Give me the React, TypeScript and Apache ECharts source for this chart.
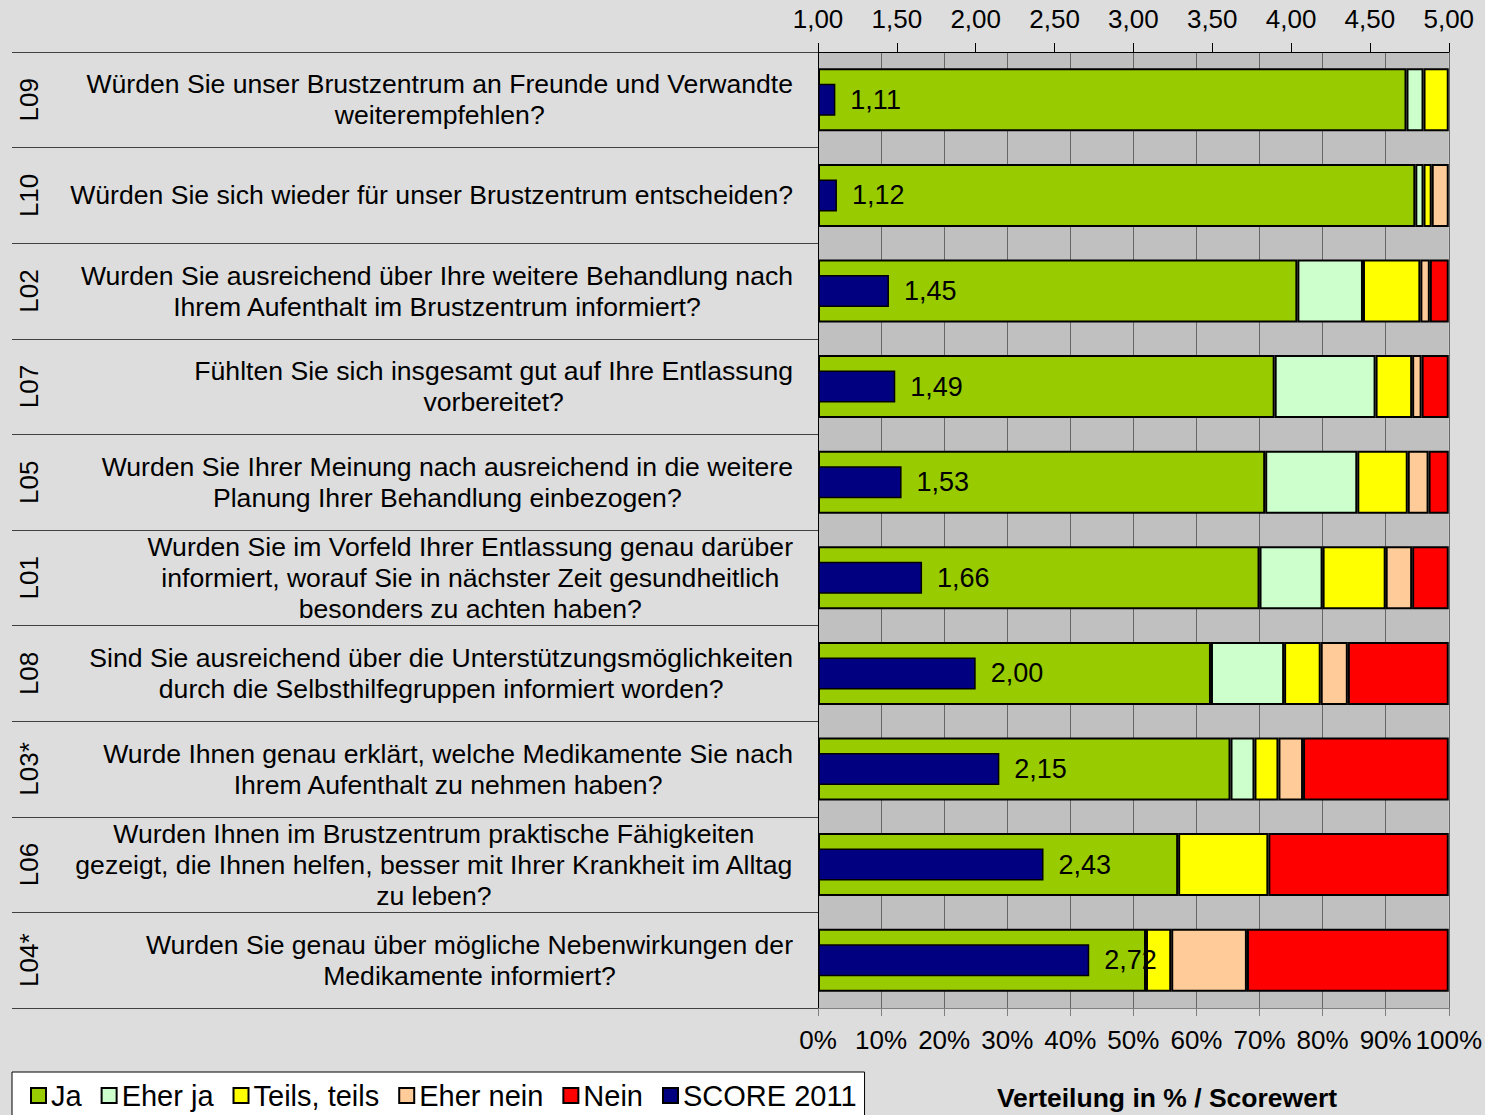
import React, { useEffect, useRef } from "react";
import * as echarts from "echarts";

const codes = ["L09", "L10", "L02", "L07", "L05", "L01", "L08", "L03*", "L06", "L04*"];
const questions: string[][] = [
  ["Würden Sie unser Brustzentrum an Freunde und Verwandte", "weiterempfehlen?"],
  ["Würden Sie sich wieder für unser Brustzentrum entscheiden?"],
  ["Wurden Sie ausreichend über Ihre weitere Behandlung nach", "Ihrem Aufenthalt im Brustzentrum informiert?"],
  ["Fühlten Sie sich insgesamt gut auf Ihre Entlassung", "vorbereitet?"],
  ["Wurden Sie Ihrer Meinung nach ausreichend in die weitere", "Planung Ihrer Behandlung einbezogen?"],
  ["Wurden Sie im Vorfeld Ihrer Entlassung genau darüber", "informiert, worauf Sie in nächster Zeit gesundheitlich", "besonders zu achten haben?"],
  ["Sind Sie ausreichend über die Unterstützungsmöglichkeiten", "durch die Selbsthilfegruppen informiert worden?"],
  ["Wurde Ihnen genau erklärt, welche Medikamente Sie nach", "Ihrem Aufenthalt zu nehmen haben?"],
  ["Wurden Ihnen im Brustzentrum praktische Fähigkeiten", "gezeigt, die Ihnen helfen, besser mit Ihrer Krankheit im Alltag", "zu leben?"],
  ["Wurden Sie genau über mögliche Nebenwirkungen der", "Medikamente informiert?"],
];

const ja = [93.3, 94.7, 76.0, 72.4, 70.9, 70.0, 62.3, 65.4, 57.1, 52.0];
const eherJa = [2.7, 1.3, 10.4, 16.0, 14.6, 10.0, 11.6, 3.8, 0, 0];
const teils = [4.0, 1.3, 9.1, 5.8, 8.0, 10.0, 5.8, 3.8, 14.3, 4.0];
const eherNein = [0, 2.7, 1.5, 1.5, 3.3, 4.2, 4.3, 3.9, 0, 12.0];
const nein = [0, 0, 3.0, 4.3, 3.2, 5.8, 16.0, 23.1, 28.6, 32.0];
const score2011 = [1.11, 1.12, 1.45, 1.49, 1.53, 1.66, 2.0, 2.15, 2.43, 2.72];

const scoreMin = 1;
const scoreMax = 5;
const scoreStep = 0.5;
const pctTicks = 10;

const FONT = '"Liberation Sans", Arial, sans-serif';
const fmtScore = (v: number) => v.toFixed(2).replace(".", ",");

export default function App() {
  const ref = useRef<HTMLDivElement>(null);
  useEffect(() => {
    if (!ref.current) return;
    const chart = echarts.init(ref.current, undefined, { renderer: "svg" });
    const stackSeries = [
      { name: "Ja", data: ja, color: "#99cc00" },
      { name: "Eher ja", data: eherJa, color: "#ccffcc" },
      { name: "Teils, teils", data: teils, color: "#ffff00" },
      { name: "Eher nein", data: eherNein, color: "#ffcc99" },
      { name: "Nein", data: nein, color: "#ff0000" },
    ].map((s) => ({
      name: s.name,
      type: "bar",
      stack: "dist",
      xAxisIndex: 0,
      yAxisIndex: 0,
      barWidth: 63,
      data: s.data.map((v) => (v === 0 ? "-" : v)),
      itemStyle: { color: s.color, borderColor: "#000", borderWidth: 2 },
    }));
    chart.setOption({
      animation: false,
      backgroundColor: "#dddddd",
      textStyle: { fontFamily: FONT },
      grid: {
        left: 818,
        right: 36,
        top: 52,
        bottom: 107,
        show: true,
        backgroundColor: "#c0c0c0",
        borderWidth: 0,
      },
      legend: {
        left: 12,
        top: 1072,
        orient: "horizontal",
        backgroundColor: "#ffffff",
        borderColor: "#000",
        borderWidth: 1,
        borderRadius: 0,
        padding: [9, 8, 20, 18],
        itemWidth: 15,
        itemHeight: 15,
        itemGap: 19,
        icon: "rect",
        textStyle: { fontSize: 29, color: "#000", fontFamily: FONT },
        data: ["Ja", "Eher ja", "Teils, teils", "Eher nein", "Nein", "SCORE 2011"],
      },
      graphic: [
        {
          type: "text",
          x: 1167,
          y: 1098,
          style: {
            text: "Verteilung in % / Scorewert",
            font: `bold 26.5px ${FONT}`,
            fill: "#000",
            align: "center",
            verticalAlign: "middle",
          },
        },
      ],
      xAxis: [
        {
          type: "value",
          position: "bottom",
          min: 0,
          max: 100,
          interval: pctTicks,
          axisLabel: { formatter: "{value}%", fontSize: 26, color: "#000", margin: 19 },
          axisLine: { show: true, lineStyle: { color: "#808080", width: 1 } },
          axisTick: { show: true, length: 8, lineStyle: { color: "#808080" } },
          splitLine: { show: true, lineStyle: { color: "#666666", width: 1 } },
        },
        {
          type: "value",
          position: "top",
          min: 0,
          max: scoreMax - scoreMin,
          interval: scoreStep,
          axisLabel: {
            formatter: (v: number) => fmtScore(v + scoreMin),
            fontSize: 26,
            color: "#000",
            margin: 20,
          },
          axisLine: { show: true, lineStyle: { color: "#000", width: 1 } },
          axisTick: { show: true, length: 9, lineStyle: { color: "#000" } },
          splitLine: { show: false },
        },
      ],
      yAxis: [
        {
          type: "category",
          data: codes,
          inverse: true,
          position: "left",
          axisLine: { show: true, lineStyle: { color: "#000", width: 1 } },
          axisTick: { show: true, length: 806, lineStyle: { color: "#404040", width: 1 } },
          axisLabel: {
            margin: 25,
            fontSize: 26.6,
            color: "#000",
            lineHeight: 31,
            formatter: (_v: string, i: number) => questions[i].map((l) => `{c|${l}}`).join("\n"),
            rich: { c: { align: "center", fontSize: 26.6, lineHeight: 31, color: "#000", fontFamily: FONT } },
          },
          splitLine: { show: false },
        },
        {
          type: "category",
          data: codes,
          inverse: true,
          position: "left",
          offset: 776,
          axisLine: { show: false },
          axisTick: { show: false },
          axisLabel: { rotate: 90, margin: 0, fontSize: 26, color: "#000", fontFamily: FONT },
          splitLine: { show: false },
        },
      ],
      series: [
        ...stackSeries,
        {
          name: "SCORE 2011",
          type: "bar",
          xAxisIndex: 1,
          yAxisIndex: 1,
          barWidth: 32,
          z: 5,
          data: score2011.map((v) => v - scoreMin),
          itemStyle: { color: "#000080", borderColor: "#000", borderWidth: 1.5 },
          label: {
            show: true,
            position: "right",
            distance: 15,
            fontSize: 27,
            color: "#000",
            formatter: (p: any) => fmtScore(score2011[p.dataIndex]),
          },
        },
      ],
    });
    return () => chart.dispose();
  }, []);
  return (
    <div
      ref={ref}
      style={{ position: "fixed", left: 0, top: 0, width: 1485, height: 1115 }}
    />
  );
}
